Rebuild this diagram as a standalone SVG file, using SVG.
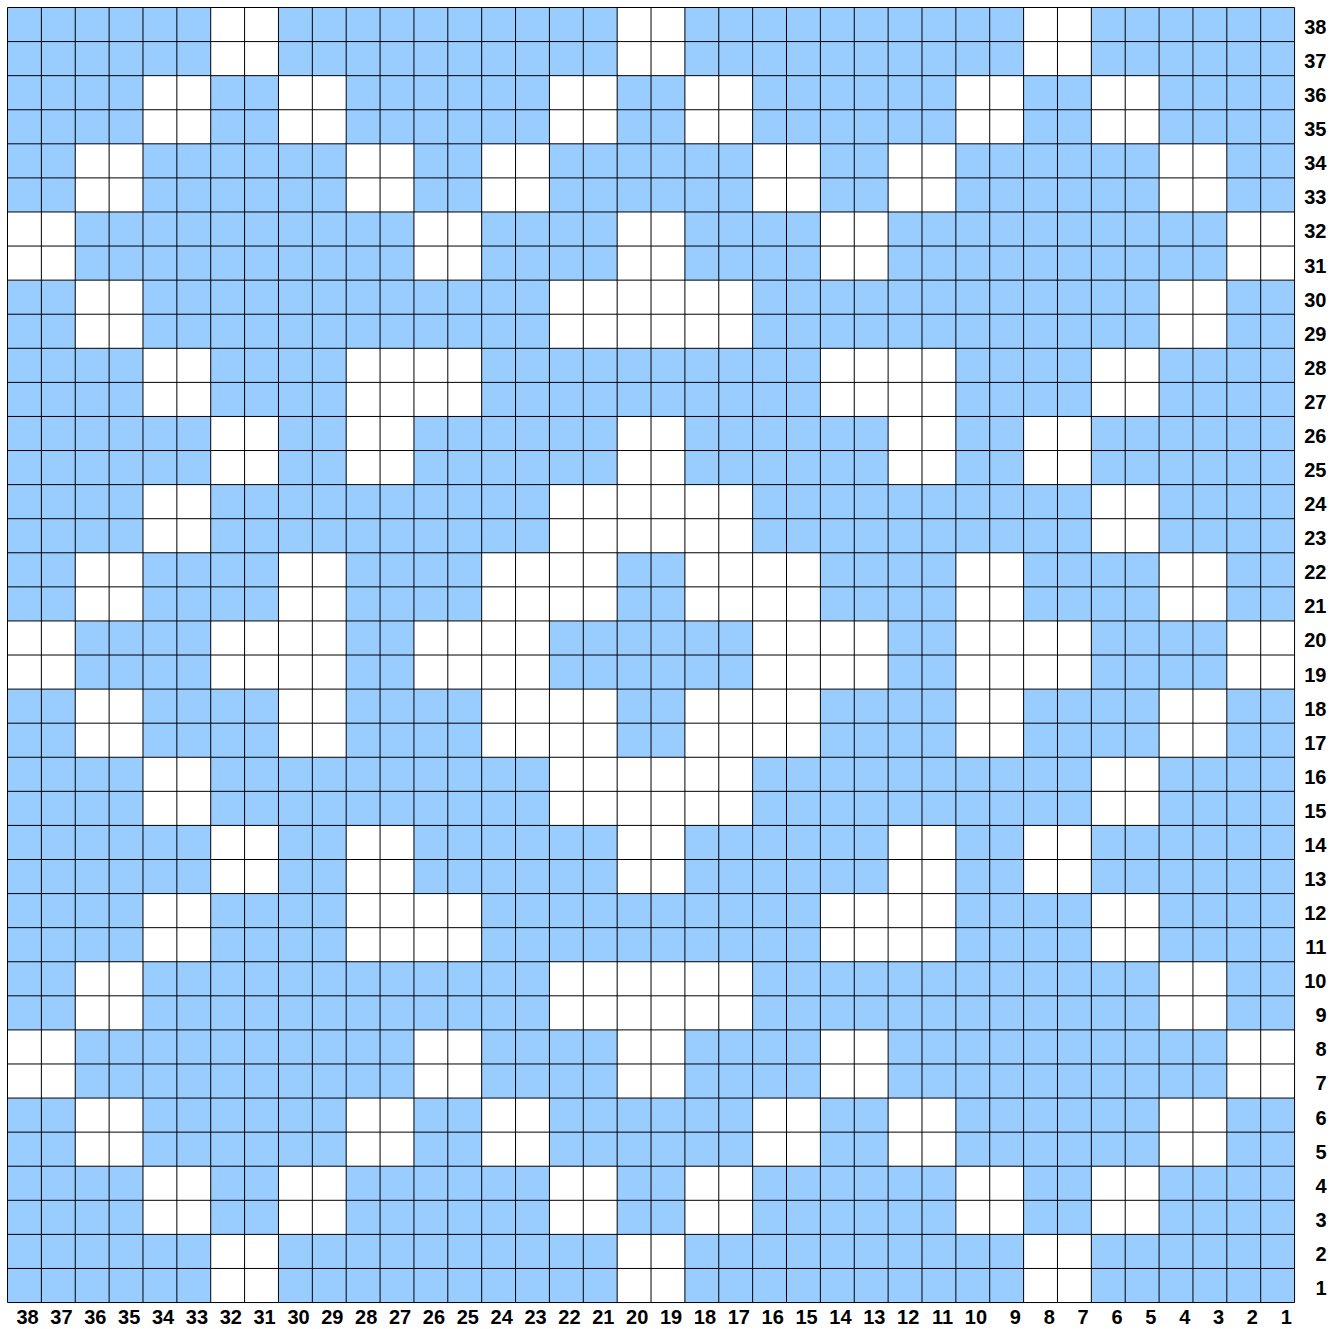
<svg xmlns="http://www.w3.org/2000/svg" width="1340" height="1329" viewBox="0 0 1340 1329">
<style>
.w{fill:#ffffff}
.grid{fill:none;stroke:#000;stroke-width:1}
.lb{font-family:"Liberation Sans",Arial,sans-serif;font-weight:bold;font-size:20px;fill:#000;text-anchor:end}
</style>
<rect x="0" y="0" width="1340" height="1329" fill="#ffffff"/>
<rect x="7.5" y="7.5" width="1287.06" height="1295.04" fill="#99ccff"/>
<g id="white-cells" transform="translate(7.5,7.5) scale(67.74,68.16)">
<rect class="w" x="3" y="0" width="1" height="1"/><rect class="w" x="9" y="0" width="1" height="1"/><rect class="w" x="15" y="0" width="1" height="1"/>
<rect class="w" x="2" y="1" width="1" height="1"/><rect class="w" x="4" y="1" width="1" height="1"/><rect class="w" x="8" y="1" width="1" height="1"/><rect class="w" x="10" y="1" width="1" height="1"/><rect class="w" x="14" y="1" width="1" height="1"/><rect class="w" x="16" y="1" width="1" height="1"/>
<rect class="w" x="1" y="2" width="1" height="1"/><rect class="w" x="5" y="2" width="1" height="1"/><rect class="w" x="7" y="2" width="1" height="1"/><rect class="w" x="11" y="2" width="1" height="1"/><rect class="w" x="13" y="2" width="1" height="1"/><rect class="w" x="17" y="2" width="1" height="1"/>
<rect class="w" x="0" y="3" width="1" height="1"/><rect class="w" x="6" y="3" width="1" height="1"/><rect class="w" x="9" y="3" width="1" height="1"/><rect class="w" x="12" y="3" width="1" height="1"/><rect class="w" x="18" y="3" width="1" height="1"/>
<rect class="w" x="1" y="4" width="1" height="1"/><rect class="w" x="8" y="4" width="3" height="1"/><rect class="w" x="17" y="4" width="1" height="1"/>
<rect class="w" x="2" y="5" width="1" height="1"/><rect class="w" x="5" y="5" width="2" height="1"/><rect class="w" x="12" y="5" width="2" height="1"/><rect class="w" x="16" y="5" width="1" height="1"/>
<rect class="w" x="3" y="6" width="1" height="1"/><rect class="w" x="5" y="6" width="1" height="1"/><rect class="w" x="9" y="6" width="1" height="1"/><rect class="w" x="13" y="6" width="1" height="1"/><rect class="w" x="15" y="6" width="1" height="1"/>
<rect class="w" x="2" y="7" width="1" height="1"/><rect class="w" x="8" y="7" width="3" height="1"/><rect class="w" x="16" y="7" width="1" height="1"/>
<rect class="w" x="1" y="8" width="1" height="1"/><rect class="w" x="4" y="8" width="1" height="1"/><rect class="w" x="7" y="8" width="2" height="1"/><rect class="w" x="10" y="8" width="2" height="1"/><rect class="w" x="14" y="8" width="1" height="1"/><rect class="w" x="17" y="8" width="1" height="1"/>
<rect class="w" x="0" y="9" width="1" height="1"/><rect class="w" x="3" y="9" width="2" height="1"/><rect class="w" x="6" y="9" width="2" height="1"/><rect class="w" x="11" y="9" width="2" height="1"/><rect class="w" x="14" y="9" width="2" height="1"/><rect class="w" x="18" y="9" width="1" height="1"/>
<rect class="w" x="1" y="10" width="1" height="1"/><rect class="w" x="4" y="10" width="1" height="1"/><rect class="w" x="7" y="10" width="2" height="1"/><rect class="w" x="10" y="10" width="2" height="1"/><rect class="w" x="14" y="10" width="1" height="1"/><rect class="w" x="17" y="10" width="1" height="1"/>
<rect class="w" x="2" y="11" width="1" height="1"/><rect class="w" x="8" y="11" width="3" height="1"/><rect class="w" x="16" y="11" width="1" height="1"/>
<rect class="w" x="3" y="12" width="1" height="1"/><rect class="w" x="5" y="12" width="1" height="1"/><rect class="w" x="9" y="12" width="1" height="1"/><rect class="w" x="13" y="12" width="1" height="1"/><rect class="w" x="15" y="12" width="1" height="1"/>
<rect class="w" x="2" y="13" width="1" height="1"/><rect class="w" x="5" y="13" width="2" height="1"/><rect class="w" x="12" y="13" width="2" height="1"/><rect class="w" x="16" y="13" width="1" height="1"/>
<rect class="w" x="1" y="14" width="1" height="1"/><rect class="w" x="8" y="14" width="3" height="1"/><rect class="w" x="17" y="14" width="1" height="1"/>
<rect class="w" x="0" y="15" width="1" height="1"/><rect class="w" x="6" y="15" width="1" height="1"/><rect class="w" x="9" y="15" width="1" height="1"/><rect class="w" x="12" y="15" width="1" height="1"/><rect class="w" x="18" y="15" width="1" height="1"/>
<rect class="w" x="1" y="16" width="1" height="1"/><rect class="w" x="5" y="16" width="1" height="1"/><rect class="w" x="7" y="16" width="1" height="1"/><rect class="w" x="11" y="16" width="1" height="1"/><rect class="w" x="13" y="16" width="1" height="1"/><rect class="w" x="17" y="16" width="1" height="1"/>
<rect class="w" x="2" y="17" width="1" height="1"/><rect class="w" x="4" y="17" width="1" height="1"/><rect class="w" x="8" y="17" width="1" height="1"/><rect class="w" x="10" y="17" width="1" height="1"/><rect class="w" x="14" y="17" width="1" height="1"/><rect class="w" x="16" y="17" width="1" height="1"/>
<rect class="w" x="3" y="18" width="1" height="1"/><rect class="w" x="9" y="18" width="1" height="1"/><rect class="w" x="15" y="18" width="1" height="1"/>
</g>
<g id="grid-lines" transform="translate(7.5,7.5) scale(33.87,34.08)">
<path class="grid" vector-effect="non-scaling-stroke" d="M0 0V38M1 0V38M2 0V38M3 0V38M4 0V38M5 0V38M6 0V38M7 0V38M8 0V38M9 0V38M10 0V38M11 0V38M12 0V38M13 0V38M14 0V38M15 0V38M16 0V38M17 0V38M18 0V38M19 0V38M20 0V38M21 0V38M22 0V38M23 0V38M24 0V38M25 0V38M26 0V38M27 0V38M28 0V38M29 0V38M30 0V38M31 0V38M32 0V38M33 0V38M34 0V38M35 0V38M36 0V38M37 0V38M38 0V38M0 0H38M0 1H38M0 2H38M0 3H38M0 4H38M0 5H38M0 6H38M0 7H38M0 8H38M0 9H38M0 10H38M0 11H38M0 12H38M0 13H38M0 14H38M0 15H38M0 16H38M0 17H38M0 18H38M0 19H38M0 20H38M0 21H38M0 22H38M0 23H38M0 24H38M0 25H38M0 26H38M0 27H38M0 28H38M0 29H38M0 30H38M0 31H38M0 32H38M0 33H38M0 34H38M0 35H38M0 36H38M0 37H38M0 38H38"/>
</g>
<g id="column-labels">
<text class="lb" x="38.67" y="1323.5">38</text>
<text class="lb" x="72.54" y="1323.5">37</text>
<text class="lb" x="106.41" y="1323.5">36</text>
<text class="lb" x="140.28" y="1323.5">35</text>
<text class="lb" x="174.15" y="1323.5">34</text>
<text class="lb" x="208.02" y="1323.5">33</text>
<text class="lb" x="241.89" y="1323.5">32</text>
<text class="lb" x="275.76" y="1323.5">31</text>
<text class="lb" x="309.63" y="1323.5">30</text>
<text class="lb" x="343.5" y="1323.5">29</text>
<text class="lb" x="377.37" y="1323.5">28</text>
<text class="lb" x="411.24" y="1323.5">27</text>
<text class="lb" x="445.11" y="1323.5">26</text>
<text class="lb" x="478.98" y="1323.5">25</text>
<text class="lb" x="512.85" y="1323.5">24</text>
<text class="lb" x="546.72" y="1323.5">23</text>
<text class="lb" x="580.59" y="1323.5">22</text>
<text class="lb" x="614.46" y="1323.5">21</text>
<text class="lb" x="648.33" y="1323.5">20</text>
<text class="lb" x="682.2" y="1323.5">19</text>
<text class="lb" x="716.07" y="1323.5">18</text>
<text class="lb" x="749.94" y="1323.5">17</text>
<text class="lb" x="783.81" y="1323.5">16</text>
<text class="lb" x="817.68" y="1323.5">15</text>
<text class="lb" x="851.55" y="1323.5">14</text>
<text class="lb" x="885.42" y="1323.5">13</text>
<text class="lb" x="919.29" y="1323.5">12</text>
<text class="lb" x="953.16" y="1323.5">11</text>
<text class="lb" x="987.03" y="1323.5">10</text>
<text class="lb" x="1020.9" y="1323.5">9</text>
<text class="lb" x="1054.77" y="1323.5">8</text>
<text class="lb" x="1088.64" y="1323.5">7</text>
<text class="lb" x="1122.51" y="1323.5">6</text>
<text class="lb" x="1156.38" y="1323.5">5</text>
<text class="lb" x="1190.25" y="1323.5">4</text>
<text class="lb" x="1224.12" y="1323.5">3</text>
<text class="lb" x="1257.99" y="1323.5">2</text>
<text class="lb" x="1291.86" y="1323.5">1</text>
</g>
<g id="row-labels">
<text class="lb" x="1326.5" y="34">38</text>
<text class="lb" x="1326.5" y="68.08">37</text>
<text class="lb" x="1326.5" y="102.16">36</text>
<text class="lb" x="1326.5" y="136.24">35</text>
<text class="lb" x="1326.5" y="170.32">34</text>
<text class="lb" x="1326.5" y="204.4">33</text>
<text class="lb" x="1326.5" y="238.48">32</text>
<text class="lb" x="1326.5" y="272.56">31</text>
<text class="lb" x="1326.5" y="306.64">30</text>
<text class="lb" x="1326.5" y="340.72">29</text>
<text class="lb" x="1326.5" y="374.8">28</text>
<text class="lb" x="1326.5" y="408.88">27</text>
<text class="lb" x="1326.5" y="442.96">26</text>
<text class="lb" x="1326.5" y="477.04">25</text>
<text class="lb" x="1326.5" y="511.12">24</text>
<text class="lb" x="1326.5" y="545.2">23</text>
<text class="lb" x="1326.5" y="579.28">22</text>
<text class="lb" x="1326.5" y="613.36">21</text>
<text class="lb" x="1326.5" y="647.44">20</text>
<text class="lb" x="1326.5" y="681.52">19</text>
<text class="lb" x="1326.5" y="715.6">18</text>
<text class="lb" x="1326.5" y="749.68">17</text>
<text class="lb" x="1326.5" y="783.76">16</text>
<text class="lb" x="1326.5" y="817.84">15</text>
<text class="lb" x="1326.5" y="851.92">14</text>
<text class="lb" x="1326.5" y="886">13</text>
<text class="lb" x="1326.5" y="920.08">12</text>
<text class="lb" x="1326.5" y="954.16">11</text>
<text class="lb" x="1326.5" y="988.24">10</text>
<text class="lb" x="1326.5" y="1022.32">9</text>
<text class="lb" x="1326.5" y="1056.4">8</text>
<text class="lb" x="1326.5" y="1090.48">7</text>
<text class="lb" x="1326.5" y="1124.56">6</text>
<text class="lb" x="1326.5" y="1158.64">5</text>
<text class="lb" x="1326.5" y="1192.72">4</text>
<text class="lb" x="1326.5" y="1226.8">3</text>
<text class="lb" x="1326.5" y="1260.88">2</text>
<text class="lb" x="1326.5" y="1294.96">1</text>
</g>
</svg>
